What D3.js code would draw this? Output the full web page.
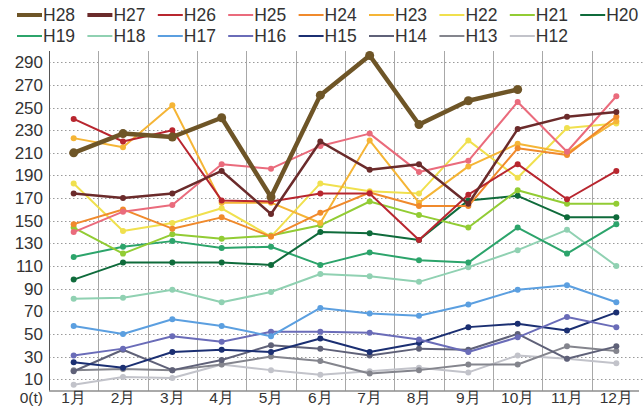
<!DOCTYPE html>
<html>
<head>
<meta charset="utf-8">
<script src="https://cdn.jsdelivr.net/npm/d3@7"></script>
<style>
  body { margin: 0; background: #fff; }
  svg { display: block; font-family: "Liberation Sans", Arial, sans-serif; }
</style>
</head>
<body>
<div id="chart"></div>
<script>
const months = ['1月', '2月', '3月', '4月', '5月', '6月', '7月', '8月', '9月', '10月', '11月', '12月'];
const yTicks = [10, 30, 50, 70, 90, 110, 130, 150, 170, 190, 210, 230, 250, 270, 290];

const seriesNames = ['H28', 'H27', 'H26', 'H25', 'H24', 'H23', 'H22', 'H21', 'H20', 'H19', 'H18', 'H17', 'H16', 'H15', 'H14', 'H13', 'H12'];
const seriesColors = ['#6e5527', '#6b2b2b', '#b8262f', '#ea6b7c', '#f08a2c', '#f5b536', '#f0e04e', '#92cc34', '#0f6b3b', '#2ca46b', '#90d1b2', '#5b9fe0', '#6a6cb8', '#1b2f72', '#5f6178', '#84858d', '#c2c3ca'];

const H28 = [210, 227, 224, 241, 171, 261, 296, 235, 256, 266];
const H27 = [174, 170, 174, 194, 156, 220, 195, 200, 165, 231, 242, 246];
const H26 = [240, 220, 230, 168, 167, 174, 174, 133, 173, 200, 169, 194];
const H25 = [140, 158, 164, 200, 196, 216, 227, 193, 203, 255, 211, 260];
const H24 = [147, 160, 143, 153, 136, 157, 175, 163, 163, 214, 208, 242];
const H23 = [223, 215, 252, 166, 166, 148, 221, 166, 198, 218, 210, 238];
const H22 = [183, 141, 148, 161, 136, 183, 176, 174, 221, 188, 232, 236];
const H21 = [144, 121, 138, 134, 137, 146, 167, 155, 144, 177, 165, 165];
const H20 = [98, 113, 113, 113, 111, 140, 139, 133, 168, 172, 153, 153];
const H19 = [118, 127, 132, 126, 127, 111, 122, 115, 113, 144, 121, 147];
const H18 = [81, 82, 89, 78, 87, 103, 101, 96, 109, 124, 142, 110];
const H17 = [57, 50, 63, 57, 48, 73, 68, 66, 76, 89, 93, 78];
const H16 = [31, 37, 48, 43, 52, 52, 51, 45, 34, 47, 65, 56];
const H15 = [25, 20, 34, 36, 34, 46, 34, 42, 56, 59, 53, 69];
const H14 = [17, 36, 18, 27, 40, 37, 31, 37, 36, 50, 28, 39];
const H13 = [18, 19, 18, 23, 30, 26, 15, 18, 23, 23, 39, 35];
const H12 = [5, 12, 11, 23, 18, 14, 17, 20, 16, 31, 28, 24];

const seriesValues = [H28, H27, H26, H25, H24, H23, H22, H21, H20, H19, H18, H17, H16, H15, H14, H13, H12];

const width = 644;
const height = 408;
const marginLeft = 49;
const marginRight = 3;
const marginTop = 51;
const plotBottom = 390.5;

const svg = d3.select('#chart')
  .append('svg')
  .attr('width', width)
  .attr('height', height);

const x = d3.scaleBand()
  .domain(months)
  .range([marginLeft, width - marginRight]);

const y = d3.scaleLinear()
  .domain([0, 300])
  .range([plotBottom, marginTop]);

// horizontal dotted grid
svg.append('g')
  .selectAll('line')
  .data(yTicks)
  .join('line')
  .attr('x1', marginLeft)
  .attr('x2', width)
  .attr('y1', (d) => Math.round(y(d)) + 0.5)
  .attr('y2', (d) => Math.round(y(d)) + 0.5)
  .attr('stroke', '#9a9a9a')
  .attr('stroke-width', 1)
  .attr('stroke-dasharray', '1.5,2.5');

// vertical solid grid between months
svg.append('g')
  .selectAll('line')
  .data(months.slice(1))
  .join('line')
  .attr('x1', (d) => Math.round(x(d)) + 0.5)
  .attr('x2', (d) => Math.round(x(d)) + 0.5)
  .attr('y1', marginTop)
  .attr('y2', plotBottom)
  .attr('stroke', '#a8a8a8')
  .attr('stroke-width', 1);

// axes
const yAxis = svg.append('g')
  .attr('transform', `translate(${marginLeft},0)`)
  .call(d3.axisLeft(y).tickValues(yTicks).tickSize(0).tickPadding(6));
yAxis.select('.domain').attr('stroke', '#555').attr('d', `M0.5,${marginTop}V${plotBottom}`);
yAxis.selectAll('text')
  .attr('font-family', '"Liberation Sans", Arial, sans-serif')
  .attr('font-size', 17)
  .attr('fill', '#333');

// month labels sit right at the bottom edge, like the reference
const xAxis = svg.append('g')
  .attr('transform', `translate(0,${plotBottom})`)
  .call(d3.axisBottom(x).tickSize(0).tickPadding(1));
xAxis.select('.domain').attr('stroke', '#555').attr('d', `M${marginLeft},0.5H${width - 5}`);
xAxis.selectAll('text')
  .attr('font-family', '"Liberation Sans", Arial, sans-serif')
  .attr('font-size', 15.5)
  .attr('fill', '#333');

svg.append('text')
  .attr('x', marginLeft - 6)
  .attr('y', plotBottom + 1)
  .attr('dy', '0.71em')
  .attr('text-anchor', 'end')
  .attr('font-size', 15.5)
  .attr('fill', '#333')
  .text('0(t)');

// lines, drawn from H12 up so H28 ends on top
const line = d3.line()
  .x((d, i) => x(months[i]) + x.bandwidth() / 2)
  .y((d) => y(d));

const order = d3.range(seriesNames.length).reverse();

const gSeries = svg.append('g');
order.forEach((k) => {
  const name = seriesNames[k];
  const thick = name === 'H28';
  const g = gSeries.append('g');
  g.append('path')
    .datum(seriesValues[k])
    .attr('fill', 'none')
    .attr('stroke', seriesColors[k])
    .attr('stroke-width', thick ? 4.5 : name === 'H27' ? 2.5 : 2)
    .attr('stroke-linejoin', 'round')
    .attr('d', line);
  g.selectAll('circle')
    .data(seriesValues[k])
    .join('circle')
    .attr('cx', (d, i) => x(months[i]) + x.bandwidth() / 2)
    .attr('cy', (d) => y(d))
    .attr('r', thick ? 4.5 : 3)
    .attr('fill', seriesColors[k]);
});

// legend, two rows of nine
const legend = svg.append('g');
seriesNames.forEach((name, i) => {
  const col = i % 9;
  const row = Math.floor(i / 9);
  const lx = 17 + col * 70.4;
  const ly = 15 + row * 21;
  const thick = name === 'H28' || name === 'H27';
  legend.append('line')
    .attr('x1', lx)
    .attr('x2', lx + 25)
    .attr('y1', ly)
    .attr('y2', ly)
    .attr('stroke', seriesColors[i])
    .attr('stroke-width', thick ? 4 : 2);
  legend.append('text')
    .attr('x', lx + 26)
    .attr('y', ly)
    .attr('dy', '0.36em')
    .attr('font-size', 17.5)
    .attr('fill', '#333')
    .text(name);
});
</script>
</body>
</html>
